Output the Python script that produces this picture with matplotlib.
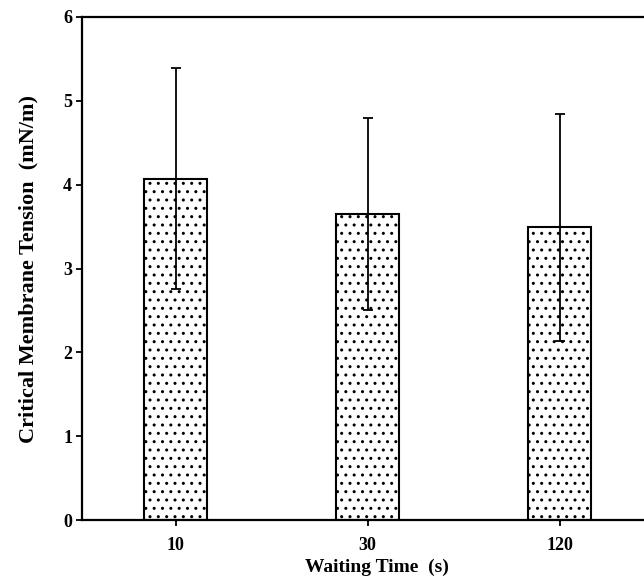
import matplotlib
matplotlib.use("Agg")
import matplotlib.pyplot as plt

# data
waiting_times = ["10", "30", "120"]
tension_mean = [4.07, 3.65, 3.49]
tension_sd = [1.32, 1.15, 1.35]

plt.rcParams['font.family'] = ['Liberation Serif', 'DejaVu Serif']
plt.rcParams['font.weight'] = 'bold'
plt.rcParams['hatch.linewidth'] = 1.0

fig = plt.figure(figsize=(6.44, 5.86), dpi=100)
ax = fig.add_axes([0.127, 0.1126, 0.873, 0.8584])

x = list(range(len(waiting_times)))
ax.bar(x, tension_mean, width=0.33, color='white', edgecolor='black',
       linewidth=1.5, hatch='..', zorder=2)
ax.errorbar(x, tension_mean, yerr=tension_sd, fmt='none', ecolor='black',
            elinewidth=1.3, capsize=3.3, capthick=1.3, zorder=3)

ax.set_xlim(-0.49, 2.44)
ax.set_ylim(0, 6)
ax.set_xticks(x)
ax.set_xticklabels(waiting_times)
ax.set_yticks(range(0, 7))
ax.tick_params(axis='both', direction='out', length=4, width=1.3,
               labelsize=13)
ax.tick_params(axis='x', pad=8)
ax.tick_params(axis='y', pad=3)
for lab in ax.get_xticklabels() + ax.get_yticklabels():
    lab.set_fontweight('bold')

ax.spines['right'].set_visible(False)
for s in ['left', 'top', 'bottom']:
    ax.spines[s].set_linewidth(1.6)

ax.set_xlabel("Waiting Time  (s)", fontsize=14, fontweight='bold')
ax.xaxis.set_label_coords(0.525, -0.076)
ax.set_ylabel("Critical Membrane Tension  (mN/m)", fontsize=16,
              fontweight='bold', labelpad=18)

fig.savefig("out.png", dpi=100)
